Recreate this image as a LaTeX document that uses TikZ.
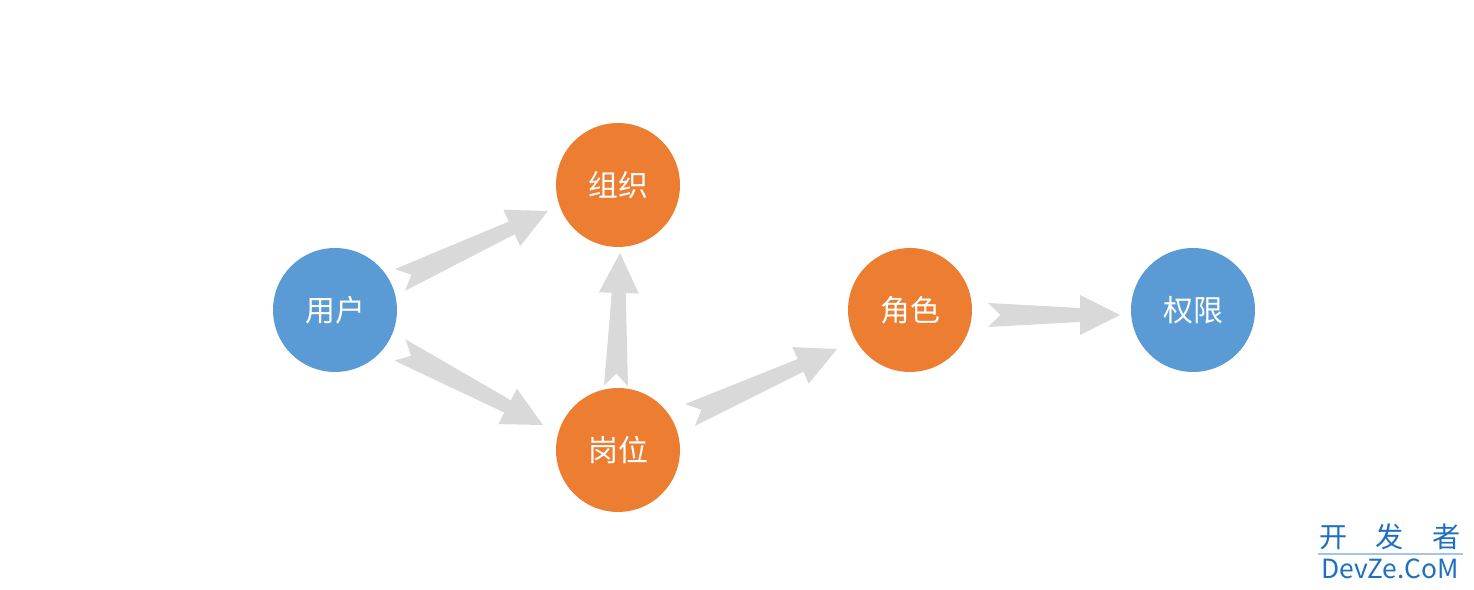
\documentclass[tikz,border=0pt]{standalone}
\usepackage{fontspec}
\newfontfamily\cjk{Noto Sans CJK SC}
\usetikzlibrary{calc}
\definecolor{roleblue}{HTML}{5B9BD5}
\definecolor{roleorange}{HTML}{ED7D31}
\definecolor{arrowgray}{HTML}{D9D9D9}
\definecolor{markblue}{HTML}{1E6FC0}
% notched block arrow from #1 to #2
\newcommand{\fatarrow}[2]{%
  \fill[arrowgray] ($(#1)!0.24cm!90:(#2)$) -- ($(#2)!0.8cm!(#1)!0.14cm!-90:(#1)$)
    -- ($(#2)!0.8cm!(#1)!0.4cm!-90:(#1)$) -- (#2)
    -- ($(#2)!0.8cm!(#1)!0.4cm!90:(#1)$) -- ($(#2)!0.8cm!(#1)!0.14cm!90:(#1)$)
    -- ($(#1)!0.24cm!-90:(#2)$) -- ($(#1)!0.25cm!(#2)$) -- cycle;}
\begin{document}
\begin{tikzpicture}
  [
    x=0.02cm, y=-0.02cm,
    Blue/.style={circle, fill=roleblue, text=white, minimum size=2.48cm, font=\cjk\fontsize{17}{19}\selectfont},
    Orange/.style={circle, fill=roleorange, text=white, minimum size=2.48cm, font=\cjk\fontsize{17}{19}\selectfont}
  ]
  \useasboundingbox (0,0) rectangle (1474,590);
  % Nodes
  \node[Blue] (user) at (335, 310) {用户};
  \node[Orange] (org) at (618, 185) {组织};
  \node[Orange] (post) at (618, 450) {岗位};
  \node[Orange] (role) at (910, 310) {角色};
  \node[Blue] (perm) at (1193, 310) {权限};
  % Arrow ends
  \coordinate (a1) at (400, 280); \coordinate (b1) at (548, 211);
  \coordinate (a2) at (400, 350); \coordinate (b2) at (543, 425);
  \coordinate (a3) at (616, 386); \coordinate (b3) at (620, 253);
  \coordinate (a4) at (690, 415); \coordinate (b4) at (837, 349);
  \coordinate (a5) at (988, 315); \coordinate (b5) at (1120, 315);
  % Arrows
  \fatarrow{a1}{b1}
  \fatarrow{a2}{b2}
  \fatarrow{a3}{b3}
  \fatarrow{a4}{b4}
  \fatarrow{a5}{b5}
  % Watermark
  \node[text=markblue, font=\cjk\fontsize{16}{18}\selectfont, inner sep=0pt] (mark) at (1390, 537) {开\hspace{1em}发\hspace{1em}者};
  \draw[markblue!40, line width=0.6pt] (1318, 554) -- (1463, 554);
  \node[text=markblue, font=\cjk\fontsize{15}{17}\selectfont, inner sep=0pt] (site) at (1390, 569) {DevZe.CoM};
\end{tikzpicture}
\end{document}
